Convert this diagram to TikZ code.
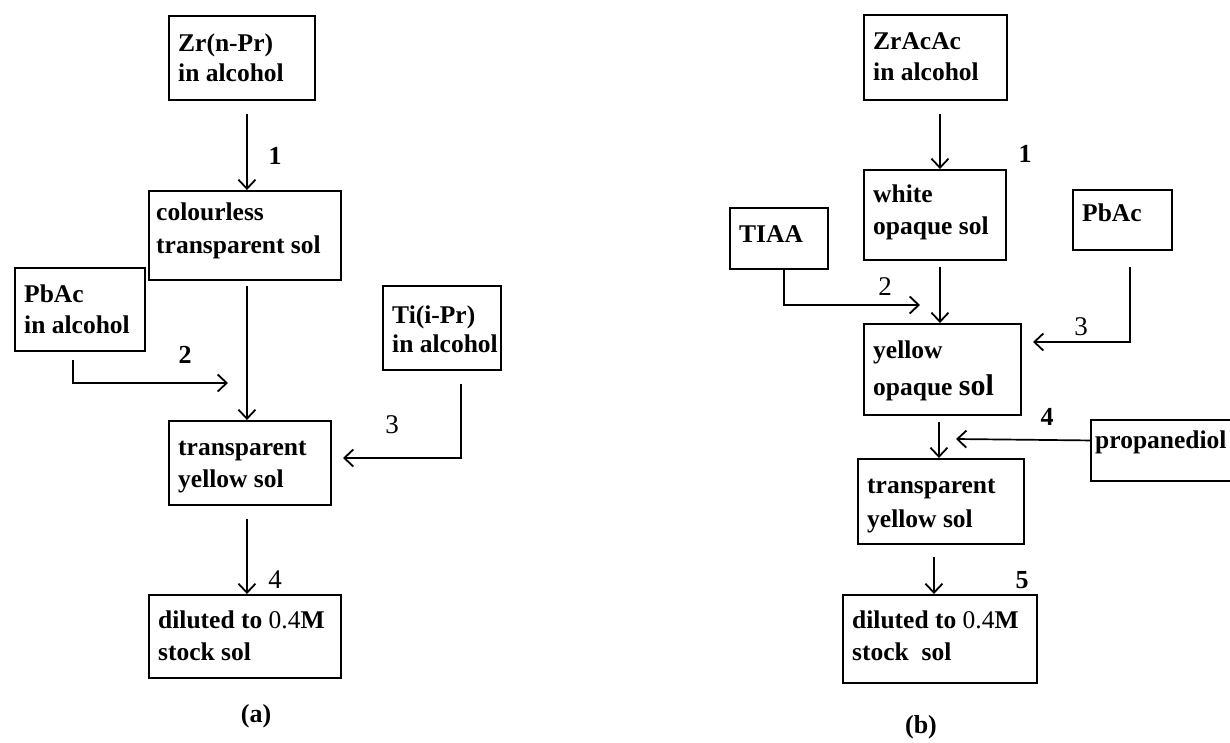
\documentclass[tikz,border=0pt]{standalone}
\usepackage{fontspec}
\setmainfont{Liberation Serif}
\usetikzlibrary{arrows.meta}
\begin{document}
\begin{tikzpicture}[x=1pt,y=-1pt,
  box/.style={draw, line width=1.9pt, anchor=north west, inner sep=0pt},
  txt/.style={anchor=base west, inner sep=0pt, font=\bfseries\fontsize{25.5}{30}\selectfont},
  lab/.style={anchor=base, inner sep=0pt, font=\fontsize{27}{30}\selectfont},
  blab/.style={lab, font=\bfseries\fontsize{26}{30}\selectfont},
  arr/.style={line width=1.7pt, -{Straight Barb[length=9pt,width=17pt,line width=1.8pt]}}]
\useasboundingbox (0,0) rectangle (1230,743);
\clip (0,0) rectangle (1230,743);
% ---------- (a) ----------
\node[box, minimum width=146pt, minimum height=84pt] (zr) at (168,15) {};
\node[txt] (zr1) at (178,52) {Zr(n-Pr)};
\node[txt] (zr2) at (178,82) {in alcohol};
\node[box, minimum width=192pt, minimum height=89pt] (col) at (148,190) {};
\node[txt] (col1) at (156,221) {colourless};
\node[txt] (col2) at (156,253) {transparent sol};
\node[box, minimum width=130pt, minimum height=83pt] (pba) at (14,267) {};
\node[txt] (pba1) at (24,302) {PbAc};
\node[txt] (pba2) at (24,333) {in alcohol};
\node[box, minimum width=118pt, minimum height=84pt] (ti) at (382,285) {};
\node[txt] (ti1) at (392,323) {Ti(i-Pr)};
\node[txt] (ti2) at (392,352) {in alcohol};
\node[box, minimum width=162pt, minimum height=84pt] (ty) at (168,420) {};
\node[txt] (ty1) at (178,455) {transparent};
\node[txt] (ty2) at (178,487) {yellow sol};
\node[box, minimum width=192pt, minimum height=83pt] (dil) at (148,594) {};
\node[txt] (dil1) at (158,628) {diluted to {\mdseries 0.4}M};
\node[txt] (dil2) at (158,660) {stock sol};
\node[blab] (capa) at (256,722) {(a)};
\coordinate (c2) at (228,383);
\coordinate (c3) at (343,458);
\draw[arr] ([xshift=5pt,yshift=-13pt]zr.south) -- ([xshift=2pt]col.north);
\draw[arr] ([xshift=2pt,yshift=-5pt]col.south) -- ([xshift=-3pt]ty.north);
\draw[arr] ([xshift=-7pt,yshift=-8pt]pba.south) |- (c2);
\draw[arr] ([xshift=19pt,yshift=-13pt]ti.south) |- (c3);
\draw[arr] ([xshift=-3pt,yshift=-13pt]ty.south) -- ([xshift=2pt]dil.north);
\node[blab] (la1) at (275,165) {1};
\node[blab] (la2) at (185,363) {2};
\node[lab] (la3) at (392,433) {3};
\node[lab] (la4) at (275,588) {4};
% ---------- (b) ----------
\node[box, minimum width=143pt, minimum height=85pt] (zac) at (863,14) {};
\node[txt] (zac1) at (873,50) {ZrAcAc};
\node[txt] (zac2) at (873,81) {in alcohol};
\node[box, minimum width=142pt, minimum height=90pt] (wh) at (863,169) {};
\node[txt] (wh1) at (873,203) {white};
\node[txt] (wh2) at (873,235) {opaque sol};
\node[box, minimum width=98pt, minimum height=61pt] (tiaa) at (729,207) {};
\node[txt] (tiaa1) at (739,243) {TIAA};
\node[box, minimum width=99pt, minimum height=60pt] (pbr) at (1072,189) {};
\node[txt] (pbr1) at (1082,222) {PbAc};
\node[box, minimum width=157pt, minimum height=91pt] (yo) at (863,323) {};
\node[txt] (yo1) at (873,358) {yellow};
\node[txt] (yo2) at (873,395) {opaque {\fontsize{30}{30}\selectfont sol}};
\node[box, minimum width=170pt, minimum height=61pt] (prop) at (1090,419) {};
\node[txt] (prop1) at (1095,448) {propanediol};
\node[box, minimum width=166pt, minimum height=85pt] (tr) at (857,458) {};
\node[txt] (tr1) at (867,493) {transparent};
\node[txt] (tr2) at (867,527) {yellow sol};
\node[box, minimum width=194pt, minimum height=88pt] (dr) at (842,594) {};
\node[txt] (dr1) at (852,628) {diluted to {\mdseries 0.4}M};
\node[txt] (dr2) at (852,660) {stock\ \ sol};
\node[blab] (capb) at (921,733) {(b)};
\coordinate (c2r) at (920,305);
\coordinate (c3r) at (1033,342);
\coordinate (c4r) at (956,439);
\draw[arr] ([xshift=4.5pt,yshift=-13pt]zac.south) -- ([xshift=5pt]wh.north);
\draw[arr] ([xshift=5pt,yshift=-6pt]wh.south) -- ([xshift=-2.5pt]yo.north);
\draw[arr] ([xshift=5pt]tiaa.south) |- (c2r);
\draw[arr] ([xshift=7.5pt,yshift=-16pt]pbr.south) |- (c3r);
\draw[arr] ([xshift=-3.5pt,yshift=-6pt]yo.south) -- ([xshift=-2pt]tr.north);
\draw[arr] ([yshift=10pt]prop.west) -- (c4r);
\draw[arr] ([xshift=-7pt,yshift=-12pt]tr.south) -- ([xshift=-6pt]dr.north);
\node[blab] (lb1) at (1025,163) {1};
\node[lab] (lb2) at (885,295) {2};
\node[lab] (lb3) at (1081,335) {3};
\node[blab] (lb4) at (1047,425) {4};
\node[blab] (lb5) at (1022,588) {5};
\end{tikzpicture}
\end{document}
